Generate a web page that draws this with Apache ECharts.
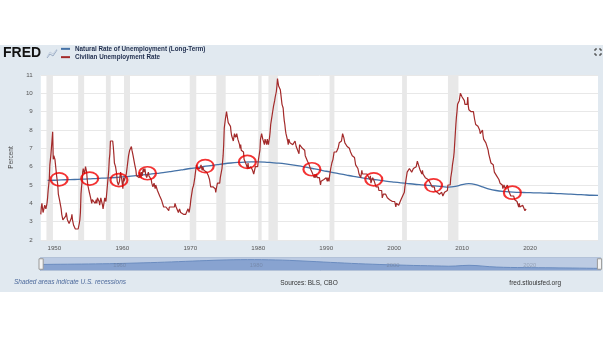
<!DOCTYPE html>
<html>
<head>
<meta charset="utf-8">
<script src="https://cdn.jsdelivr.net/npm/echarts@6/dist/echarts.min.js"></script>
<style>
  html, body { margin: 0; padding: 0; background: #ffffff; }
  #panel { position: absolute; left: 0; top: 45px; width: 603px; height: 247px; background: #e1e9f0; }
  #chart { position: absolute; left: 0; top: 0; width: 605px; height: 341px; }
</style>
</head>
<body>
<div id="panel"></div>
<div id="chart"></div>
<script>
// ---- Data ----
const unrateStartYear = 1948; // monthly, from Jan 1948
const unemploymentRate = [
  3.4,3.8,4.0,3.9,3.5,3.6,3.6,3.9,3.8,3.7,3.8,4.0, // 1948
  4.3,4.7,5.0,5.3,6.1,6.2,6.7,6.8,6.6,7.9,6.4,6.6, // 1949
  6.5,6.4,6.3,5.8,5.5,5.4,5.0,4.5,4.4,4.2,4.2,4.3, // 1950
  3.7,3.4,3.4,3.1,3.0,3.2,3.1,3.1,3.3,3.5,3.5,3.1, // 1951
  3.2,3.1,2.9,2.9,3.0,3.0,3.2,3.4,3.1,3.0,2.8,2.7, // 1952
  2.9,2.6,2.6,2.7,2.5,2.5,2.6,2.7,2.9,3.1,3.5,4.5, // 1953
  4.9,5.2,5.7,5.9,5.9,5.6,5.8,6.0,6.1,5.7,5.3,5.0, // 1954
  4.9,4.7,4.6,4.7,4.3,4.2,4.0,4.2,4.1,4.3,4.2,4.2, // 1955
  4.0,3.9,4.2,4.0,4.3,4.3,4.4,4.1,3.9,3.9,4.3,4.2, // 1956
  4.2,3.9,3.7,3.9,4.1,4.3,4.2,4.1,4.4,4.5,5.1,5.2, // 1957
  5.8,6.4,6.7,7.4,7.4,7.3,7.5,7.4,7.1,6.7,6.2,6.2, // 1958
  6.0,5.9,5.6,5.2,5.1,5.0,5.1,5.2,5.5,5.7,5.8,5.3, // 1959
  5.2,4.8,5.4,5.2,5.1,5.4,5.5,5.6,5.5,6.1,6.1,6.6, // 1960
  6.6,6.9,6.9,7.0,7.1,6.9,7.0,6.6,6.7,6.5,6.1,6.0, // 1961
  5.8,5.5,5.6,5.6,5.5,5.5,5.4,5.7,5.6,5.4,5.7,5.5, // 1962
  5.7,5.9,5.7,5.7,5.9,5.6,5.6,5.4,5.5,5.5,5.7,5.5, // 1963
  5.6,5.4,5.4,5.3,5.1,5.2,4.9,5.0,5.1,5.1,4.8,5.0, // 1964
  4.9,5.1,4.7,4.8,4.6,4.6,4.4,4.4,4.3,4.2,4.1,4.0, // 1965
  4.0,3.8,3.8,3.8,3.9,3.8,3.8,3.8,3.7,3.7,3.6,3.8, // 1966
  3.9,3.8,3.8,3.8,3.8,3.9,3.8,3.8,3.8,4.0,3.9,3.8, // 1967
  3.7,3.8,3.7,3.5,3.5,3.7,3.7,3.5,3.4,3.4,3.4,3.4, // 1968
  3.4,3.4,3.4,3.4,3.4,3.5,3.5,3.5,3.7,3.7,3.5,3.5, // 1969
  3.9,4.2,4.4,4.6,4.8,4.9,5.0,5.1,5.4,5.5,5.9,6.1, // 1970
  5.9,5.9,6.0,5.9,5.9,5.9,6.0,6.1,6.0,5.8,6.0,6.0, // 1971
  5.8,5.7,5.8,5.7,5.7,5.7,5.6,5.6,5.5,5.6,5.3,5.2, // 1972
  4.9,5.0,4.9,5.0,4.9,4.9,4.8,4.8,4.8,4.6,4.8,4.9, // 1973
  5.1,5.2,5.1,5.1,5.1,5.4,5.5,5.5,5.9,6.0,6.6,7.2, // 1974
  8.1,8.1,8.6,8.8,9.0,8.8,8.6,8.4,8.4,8.4,8.3,8.2, // 1975
  7.9,7.7,7.6,7.7,7.4,7.6,7.8,7.8,7.6,7.7,7.8,7.8, // 1976
  7.5,7.6,7.4,7.2,7.0,7.2,6.9,7.0,6.8,6.8,6.8,6.4, // 1977
  6.4,6.3,6.3,6.1,6.0,5.9,6.2,5.9,6.0,5.8,5.9,6.0, // 1978
  5.9,5.9,5.8,5.8,5.6,5.7,5.7,6.0,5.9,6.0,5.9,6.0, // 1979
  6.3,6.3,6.3,6.9,7.5,7.6,7.8,7.7,7.5,7.5,7.5,7.2, // 1980
  7.5,7.4,7.4,7.2,7.5,7.5,7.2,7.4,7.6,7.9,8.3,8.5, // 1981
  8.6,8.9,9.0,9.3,9.4,9.6,9.8,9.8,10.1,10.4,10.8,10.8, // 1982
  10.4,10.4,10.3,10.2,10.1,10.1,9.4,9.5,9.2,8.8,8.5,8.3, // 1983
  8.0,7.8,7.8,7.7,7.4,7.2,7.5,7.5,7.3,7.4,7.2,7.3, // 1984
  7.3,7.2,7.2,7.3,7.2,7.4,7.4,7.1,7.1,7.1,7.0,7.0, // 1985
  6.7,7.2,7.2,7.1,7.2,7.2,7.0,6.9,7.0,7.0,6.9,6.6, // 1986
  6.6,6.6,6.6,6.3,6.3,6.2,6.1,6.0,5.9,6.0,5.8,5.7, // 1987
  5.7,5.7,5.7,5.4,5.6,5.4,5.4,5.6,5.4,5.4,5.3,5.3, // 1988
  5.4,5.2,5.0,5.2,5.2,5.3,5.2,5.2,5.3,5.3,5.4,5.4, // 1989
  5.4,5.3,5.2,5.4,5.4,5.2,5.5,5.7,5.9,5.9,6.2,6.3, // 1990
  6.4,6.6,6.8,6.7,6.9,6.9,6.8,6.9,6.9,7.0,7.0,7.3, // 1991
  7.3,7.4,7.4,7.4,7.6,7.8,7.7,7.6,7.6,7.3,7.4,7.4, // 1992
  7.3,7.1,7.0,7.1,7.1,7.0,6.9,6.8,6.7,6.8,6.6,6.5, // 1993
  6.6,6.6,6.5,6.4,6.1,6.1,6.1,6.0,5.9,5.8,5.6,5.5, // 1994
  5.6,5.4,5.4,5.8,5.6,5.6,5.7,5.7,5.6,5.5,5.6,5.6, // 1995
  5.6,5.5,5.5,5.6,5.6,5.3,5.5,5.1,5.2,5.2,5.4,5.4, // 1996
  5.3,5.2,5.2,5.1,4.9,5.0,4.9,4.8,4.9,4.7,4.6,4.7, // 1997
  4.6,4.6,4.7,4.3,4.4,4.5,4.5,4.5,4.6,4.5,4.4,4.4, // 1998
  4.3,4.4,4.2,4.3,4.2,4.3,4.3,4.2,4.2,4.1,4.1,4.0, // 1999
  4.0,4.1,4.0,3.8,4.0,4.0,4.0,4.1,3.9,3.9,3.9,3.9, // 2000
  4.2,4.2,4.3,4.4,4.3,4.5,4.6,4.9,5.0,5.3,5.5,5.7, // 2001
  5.7,5.7,5.7,5.9,5.8,5.8,5.8,5.7,5.7,5.7,5.9,6.0, // 2002
  5.8,5.9,5.9,6.0,6.1,6.3,6.2,6.1,6.1,6.0,5.8,5.7, // 2003
  5.7,5.6,5.8,5.6,5.6,5.6,5.5,5.4,5.4,5.5,5.4,5.4, // 2004
  5.3,5.4,5.2,5.2,5.1,5.0,5.0,4.9,5.0,5.0,5.0,4.9, // 2005
  4.7,4.8,4.7,4.7,4.6,4.6,4.7,4.7,4.5,4.4,4.5,4.4, // 2006
  4.6,4.5,4.4,4.5,4.4,4.6,4.7,4.6,4.7,4.7,4.7,5.0, // 2007
  5.0,4.9,5.1,5.0,5.4,5.6,5.8,6.1,6.1,6.5,6.8,7.3, // 2008
  7.8,8.3,8.7,9.0,9.4,9.5,9.5,9.6,9.8,10.0,9.9,9.9, // 2009
  9.8,9.8,9.9,9.9,9.6,9.4,9.4,9.5,9.5,9.4,9.8,9.3, // 2010
  9.1,9.0,9.0,9.1,9.0,9.1,9.0,9.0,9.0,8.8,8.6,8.5, // 2011
  8.3,8.3,8.2,8.2,8.2,8.2,8.2,8.0,7.8,7.8,7.7,7.9, // 2012
  8.0,7.7,7.5,7.6,7.5,7.5,7.3,7.2,7.2,7.2,6.9,6.7, // 2013
  6.6,6.7,6.7,6.2,6.3,6.1,6.2,6.1,5.9,5.7,5.8,5.6, // 2014
  5.7,5.5,5.4,5.4,5.6,5.3,5.2,5.1,5.0,5.0,5.1,5.0, // 2015
  4.8,4.9,5.0,5.1,4.8,4.9,4.8,4.9,5.0,4.9,4.7,4.7, // 2016
  4.7,4.6,4.4,4.4,4.4,4.3,4.3,4.4,4.3,4.2,4.2,4.1, // 2017
  4.1,4.1,4.0,4.0,3.8,4.0,3.8,3.8,3.7,3.8,3.8,3.9, // 2018
  4.0,3.8,3.8,3.6,3.6,3.7                          // 2019
];

const naturalRateYears = [
  1949,1950,1951,1952,1953,1954,1955,1956,1957,1958,1959,
  1960,1961,1962,1963,1964,1965,1966,1967,1968,1969,
  1970,1971,1972,1973,1974,1975,1976,1977,1978,1979,
  1980,1981,1982,1983,1984,1985,1986,1987,1988,1989,
  1990,1991,1992,1993,1994,1995,1996,1997,1998,1999,
  2000,2001,2002,2003,2004,2005,2006,2007,2008,2009,
  2010,2011,2012,2013,2014,2015,2016,2017,2018,2019,
  2020,2021,2022,2023,2024,2025,2026,2027,2028,2029,2030
];
const naturalRate = [
  5.25,5.26,5.28,5.29,5.30,5.32,5.33,5.35,5.37,5.39,5.41,
  5.44,5.47,5.51,5.55,5.59,5.63,5.68,5.73,5.78,5.84,
  5.90,5.95,6.01,6.06,6.11,6.16,6.20,6.23,6.25,6.26,
  6.26,6.25,6.22,6.19,6.15,6.10,6.04,5.97,5.90,5.83,
  5.75,5.68,5.61,5.54,5.47,5.41,5.35,5.30,5.25,5.20,
  5.16,5.12,5.08,5.04,5.01,4.98,4.95,4.92,4.88,4.92,
  5.02,5.07,5.02,4.90,4.78,4.70,4.65,4.62,4.60,4.59,
  4.58,4.57,4.56,4.55,4.53,4.52,4.50,4.48,4.46,4.44,4.43
];

const recessionStarts = [1948.83,1953.50,1957.58,1960.25,1969.92,1973.83,1980.00,1981.50,1990.50,2001.17,2007.92];
const recessionEnds   = [1949.79,1954.38,1958.29,1961.13,1970.88,1975.21,1980.50,1982.88,1991.21,2001.88,2009.46];

const circleYears  = [1950.7,1955.2,1959.5,1963.7,1972.2,1978.4,1987.9,1997.0,2005.8,2017.4];
const circleValues = [5.31,5.35,5.27,5.64,6.03,6.26,5.86,5.31,4.98,4.58];

const xTickLabels = [1950,1960,1970,1980,1990,2000,2010,2020];
const navTickLabels = [1960,1980,2000,2020];

// ---- Build series data ----
const redData = unemploymentRate.map((v, i) => [unrateStartYear + i / 12, v]);
const blueData = naturalRateYears.map((y, i) => [y, naturalRate[i]]);
const circleData = circleYears.map((y, i) => [y, circleValues[i]]);
const recessionAreas = recessionStarts.map((s, i) => [{ xAxis: s }, { xAxis: recessionEnds[i] }]);

const chart = echarts.init(document.getElementById('chart'), null, { renderer: 'canvas' });
const FONT = 'Liberation Sans';
const GL = 37.6, GR = 7;
const yearFmt = v => String(Math.round(v));

chart.setOption({
  backgroundColor: 'transparent',
  animation: false,
  textStyle: { fontFamily: FONT },
  legend: {
    data: ['Natural Rate of Unemployment (Long-Term)', 'Civilian Unemployment Rate'],
    orient: 'vertical',
    left: 61, top: 45.5,
    padding: 0,
    itemWidth: 9, itemHeight: 2, itemGap: 1.6,
    icon: 'rect',
    selectedMode: false,
    textStyle: { fontSize: 6.3, fontWeight: 'bold', color: '#1f2d4d', lineHeight: 6.7, fontFamily: FONT }
  },
  grid: [
    { left: GL, right: GR, top: 75, bottom: 101, show: true, backgroundColor: '#ffffff', borderWidth: 0 },
    { left: GL, right: GR, top: 257, height: 14, show: false }
  ],
  xAxis: [
    {
      type: 'value', gridIndex: 0, min: 1948, max: 2030,
      axisLine: { show: false }, axisTick: { show: false }, splitLine: { show: false },
      axisLabel: { customValues: xTickLabels, formatter: yearFmt, fontSize: 6.2, color: '#555', margin: 5, fontFamily: FONT }
    },
    {
      type: 'value', gridIndex: 1, min: 1948, max: 2030, z: 10,
      axisLine: { show: false }, axisTick: { show: false }, splitLine: { show: false },
      axisLabel: { customValues: navTickLabels, formatter: yearFmt, inside: true, fontSize: 5.8, color: 'rgba(100,110,130,0.45)', margin: 3, fontFamily: FONT }
    }
  ],
  yAxis: [
    {
      type: 'value', gridIndex: 0, min: 2, max: 11, interval: 1,
      name: 'Percent', nameLocation: 'middle', nameGap: 25,
      nameTextStyle: { fontSize: 6.5, color: '#444', fontFamily: FONT },
      axisLine: { show: false }, axisTick: { show: false },
      axisLabel: { fontSize: 6.2, color: '#555', margin: 8, fontFamily: FONT },
      splitLine: { lineStyle: { color: '#e8e8e8', width: 1 } }
    },
    { type: 'value', gridIndex: 1, show: false, min: 0, max: 1 }
  ],
  dataZoom: [{
    type: 'slider', xAxisIndex: 0, filterMode: 'none', start: 0, end: 100,
    left: GL, right: GR, top: 257, height: 14,
    showDetail: false, brushSelect: false, moveHandleSize: 0, realtime: false,
    backgroundColor: '#c6d3e6', borderColor: '#b3c2d8',
    fillerColor: 'rgba(170,190,222,0.35)',
    dataBackground: { lineStyle: { color: '#4a72b0', width: 1, opacity: 1 }, areaStyle: { color: '#7392c8', opacity: 0.95 } },
    selectedDataBackground: { lineStyle: { color: '#4a72b0', width: 1, opacity: 1 }, areaStyle: { color: '#7392c8', opacity: 0.95 } },
    handleIcon: 'path://M0,0H4V10H0Z', handleSize: '75%',
    handleStyle: { color: '#f4f4f4', borderColor: '#999', borderWidth: 1 },
    emphasis: { handleStyle: { color: '#f4f4f4', borderColor: '#999' } }
  }],
  series: [
    {
      name: 'Natural Rate of Unemployment (Long-Term)',
      type: 'line', xAxisIndex: 0, yAxisIndex: 0,
      data: blueData, showSymbol: false, smooth: 0.3, z: 3,
      lineStyle: { color: '#4572a7', width: 1.3 }, itemStyle: { color: '#4572a7' }
    },
    {
      name: 'Civilian Unemployment Rate',
      type: 'line', xAxisIndex: 0, yAxisIndex: 0,
      data: redData, showSymbol: false, z: 4,
      lineStyle: { color: '#a32a2a', width: 1.2 }, itemStyle: { color: '#a32a2a' }
    },
    {
      name: 'Recessions', type: 'line', xAxisIndex: 0, yAxisIndex: 0, data: [], z: 1,
      markArea: { silent: true, itemStyle: { color: '#e8e8e8' }, data: recessionAreas }
    },
    {
      name: 'Highlights', type: 'scatter', xAxisIndex: 0, yAxisIndex: 0,
      data: circleData, symbol: 'circle', symbolSize: [17, 13], z: 6, silent: true,
      itemStyle: { color: 'rgba(0,0,0,0)', borderColor: '#f00000', borderWidth: 1.9 }
    }
  ],
  graphic: [
    { type: 'text', left: 3, top: 46, z: 100,
      style: { text: 'FRED', font: 'bold 14px "Liberation Sans"', fill: '#111' } },
    { type: 'polyline', z: 100, shape: { points: [[47, 58], [50, 54], [53, 56], [57, 50]] },
      style: { stroke: '#9aabc4', lineWidth: 1, fill: null } },
    { type: 'polyline', z: 100, shape: { points: [[47, 57], [50, 52], [53, 54], [57, 49]] },
      style: { stroke: '#c3cfdf', lineWidth: 1, fill: null } },
    { type: 'polyline', z: 100, shape: { points: [[595, 51], [595, 49], [597, 49]] }, style: { stroke: '#333', lineWidth: 1, fill: null } },
    { type: 'polyline', z: 100, shape: { points: [[599, 49], [601, 49], [601, 51]] }, style: { stroke: '#333', lineWidth: 1, fill: null } },
    { type: 'polyline', z: 100, shape: { points: [[595, 53], [595, 55], [597, 55]] }, style: { stroke: '#333', lineWidth: 1, fill: null } },
    { type: 'polyline', z: 100, shape: { points: [[599, 55], [601, 55], [601, 53]] }, style: { stroke: '#333', lineWidth: 1, fill: null } },
    { type: 'text', left: 14, top: 279, z: 100,
      style: { text: 'Shaded areas indicate U.S. recessions', font: 'italic 6.5px "Liberation Sans"', fill: '#4d6a9c' } },
    { type: 'text', x: 309, y: 283, z: 100,
      style: { text: 'Sources: BLS, CBO', font: '6.5px "Liberation Sans"', fill: '#333', align: 'center', verticalAlign: 'middle' } },
    { type: 'text', x: 561, y: 283, z: 100,
      style: { text: 'fred.stlouisfed.org', font: '6.5px "Liberation Sans"', fill: '#333', align: 'right', verticalAlign: 'middle' } }
  ]
});
</script>
</body>
</html>
